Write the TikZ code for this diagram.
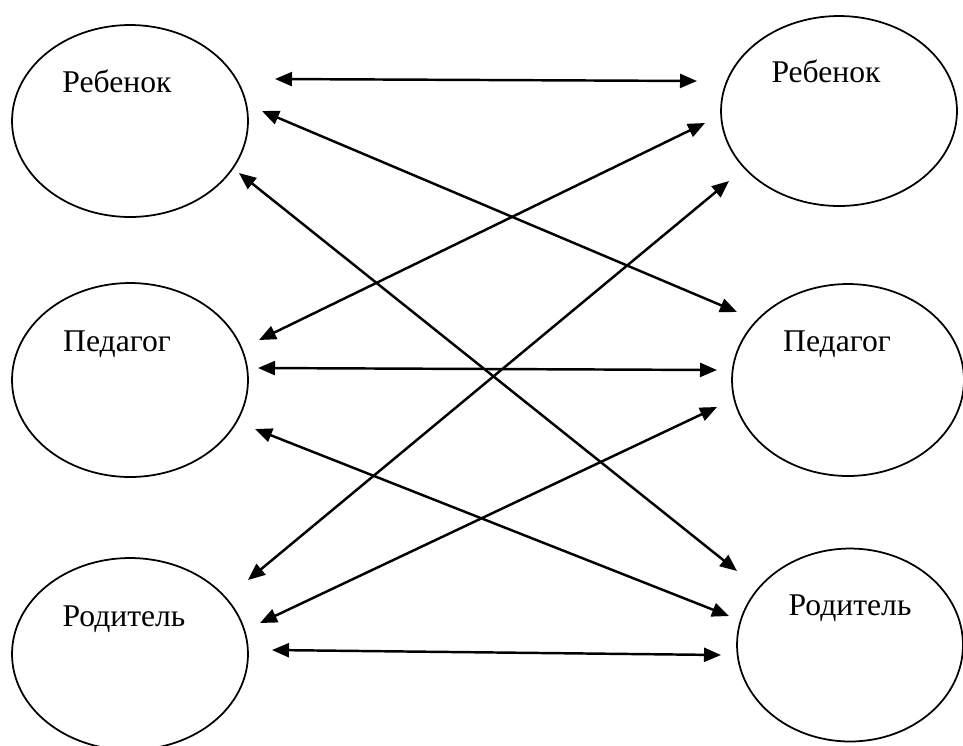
\documentclass[tikz,border=0pt]{standalone}
\usepackage{fontspec}
\setmainfont{Liberation Serif}
\usepackage{tikz}
\usetikzlibrary{shapes.geometric,arrows.meta}
\tikzset{
  roleshape/.style={ellipse, draw=black, line width=1pt, inner sep=0pt},
  rolelabel/.style={anchor=base, inner sep=0pt, font=\fontsize{18}{22}\selectfont},
  link/.style={{Triangle[length=0.34cm,width=0.28cm]}-{Triangle[length=0.34cm,width=0.28cm]}, line width=1.4pt}
}

\begin{document}
\begin{tikzpicture}[x=0.02cm, y=-0.02cm]
  \useasboundingbox (0,0) rectangle (963,745);
  % left column
  \node[roleshape, minimum width=4.72cm, minimum height=3.84cm] (chL) at (130,121) {};
  \node[roleshape, minimum width=4.72cm, minimum height=3.88cm] (peL) at (130,380) {};
  \node[roleshape, minimum width=4.72cm, minimum height=3.84cm] (paL) at (130,654) {};
  % right column
  \node[roleshape, minimum width=4.72cm, minimum height=3.80cm] (chR) at (839,111) {};
  \node[roleshape, minimum width=4.64cm, minimum height=3.84cm] (peR) at (848,380) {};
  \node[roleshape, minimum width=4.52cm, minimum height=3.86cm] (paR) at (850,645) {};
  % labels
  \node[rolelabel] (chL-txt) at (117,92) {Ребенок};
  \node[rolelabel] (peL-txt) at (117,351) {Педагог};
  \node[rolelabel] (paL-txt) at (124,626) {Родитель};
  \node[rolelabel] (chR-txt) at (826,82) {Ребенок};
  \node[rolelabel] (peR-txt) at (837,351) {Педагог};
  \node[rolelabel] (paR-txt) at (850,615) {Родитель};
  % arrow ends next to the ellipses
  \coordinate (chL-a) at (275,79);
  \coordinate (chL-b) at (262,111);
  \coordinate (chL-c) at (239,173);
  \coordinate (peL-a) at (259,340);
  \coordinate (peL-b) at (258,368);
  \coordinate (peL-c) at (255,429);
  \coordinate (paL-a) at (248,580);
  \coordinate (paL-b) at (260,623);
  \coordinate (paL-c) at (272,650);
  \coordinate (chR-a) at (697,81);
  \coordinate (chR-b) at (705,123);
  \coordinate (chR-c) at (729,181);
  \coordinate (peR-a) at (737,312);
  \coordinate (peR-b) at (717,370);
  \coordinate (peR-c) at (717,407);
  \coordinate (paR-a) at (737,571);
  \coordinate (paR-b) at (729,616);
  \coordinate (paR-c) at (721,655);
  % connections
  \draw[link] (chL-a) -- (chR-a);
  \draw[link] (chL-b) -- (peR-a);
  \draw[link] (chL-c) -- (paR-a);
  \draw[link] (peL-a) -- (chR-b);
  \draw[link] (peL-b) -- (peR-b);
  \draw[link] (peL-c) -- (paR-b);
  \draw[link] (paL-a) -- (chR-c);
  \draw[link] (paL-b) -- (peR-c);
  \draw[link] (paL-c) -- (paR-c);
\end{tikzpicture}
\end{document}
